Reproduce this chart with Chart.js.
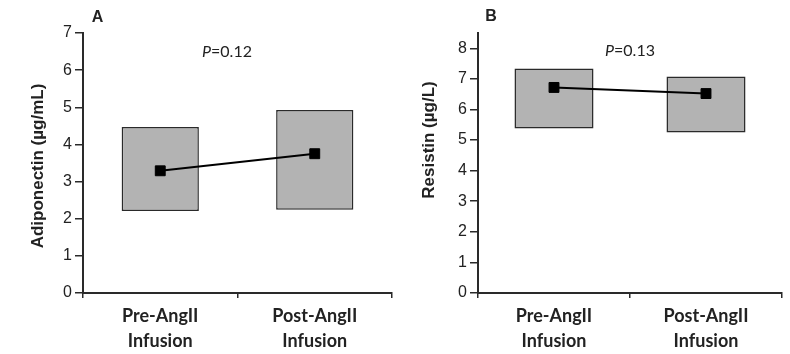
<!DOCTYPE html>
<html>
<head>
<meta charset="utf-8">
<script src="https://cdn.jsdelivr.net/npm/chart.js@4.4.1/dist/chart.umd.min.js"></script>
<style>
  html, body { margin: 0; padding: 0; background: #fff; }
  #lienzo { position: relative; width: 790px; height: 354px; }
  .panel { position: absolute; top: 0; height: 354px; }
  #panelA { left: 0; width: 400px; }
  #panelB { left: 400px; width: 390px; }
</style>
</head>
<body>
<div id="lienzo">
  <div class="panel" id="panelA"><canvas id="chartA"></canvas></div>
  <div class="panel" id="panelB"><canvas id="chartB"></canvas></div>
</div>
<script>
// --- DATOS ---
const categorias = [['Pre-AngII', 'Infusion'], ['Post-AngII', 'Infusion']];

// Adiponectina (µg/mL)
const adipoMin = [2.21, 2.24];
const adipoMax = [4.47, 4.93];
const adipoMediana = [3.29, 3.75];
const adipoTicks = [0, 1, 2, 3, 4, 5, 6, 7];

// Resistina (µg/L)
const resisMin = [5.38, 5.25];
const resisMax = [7.34, 7.08];
const resisMediana = [6.72, 6.52];
const resisTicks = [0, 1, 2, 3, 4, 5, 6, 7, 8];

const colores = {
    caja: '#b3b3b3',
    borde: '#2a2a2a',
    texto: '#222222',
    linea: '#000000'
};

const fuenteArial = '"Liberation Sans", Arial, sans-serif';

// --- PLUGIN DE TEXTOS (letra del panel, valor P, título del eje Y) ---
const notasPlugin = {
    id: 'notas',
    afterDraw(chart, args, opts) {
        const ctx = chart.ctx;
        ctx.save();
        ctx.fillStyle = colores.texto;
        ctx.textBaseline = 'middle';

        // Letra del panel
        ctx.font = 'bold 16px ' + fuenteArial;
        ctx.textAlign = 'center';
        ctx.fillText(opts.letra.texto, opts.letra.x, opts.letra.y);

        // Valor P: "P" en cursiva + resto normal
        ctx.font = 'italic 16px Lato, sans-serif';
        const wP = ctx.measureText('P').width;
        ctx.font = '16px Lato, sans-serif';
        const resto = '=' + opts.p.valor;
        const wR = ctx.measureText(resto).width;
        const x0 = opts.p.x - (wP + wR) / 2;
        ctx.textAlign = 'left';
        ctx.font = 'italic 16px Lato, sans-serif';
        ctx.fillText('P', x0, opts.p.y);
        ctx.font = '16px Lato, sans-serif';
        ctx.fillText(resto, x0 + wP, opts.p.y);

        // Título del eje Y
        ctx.translate(opts.titulo.x, opts.titulo.y);
        ctx.rotate(-Math.PI / 2);
        ctx.textAlign = 'center';
        ctx.font = 'bold 17px ' + fuenteArial;
        ctx.fillText(opts.titulo.texto, 0, 0);
        ctx.restore();
    }
};

// --- CONSTRUCCIÓN DE CADA PANEL ---
function crearPanel(idCanvas, cfg) {
    const ctx = document.getElementById(idCanvas).getContext('2d');
    const rangos = cfg.minimos.map((v, i) => [v, cfg.maximos[i]]);

    return new Chart(ctx, {
        data: {
            labels: categorias,
            datasets: [
                {
                    type: 'line',
                    data: cfg.medianas,
                    borderColor: colores.linea,
                    borderWidth: 2,
                    pointStyle: 'rect',
                    pointRadius: 7,
                    pointBackgroundColor: colores.linea,
                    pointBorderColor: colores.linea,
                    pointBorderWidth: 1,
                    order: 0
                },
                {
                    type: 'bar',
                    data: rangos,
                    backgroundColor: colores.caja,
                    borderColor: colores.borde,
                    borderWidth: 1.5,
                    borderSkipped: false,
                    categoryPercentage: 1,
                    barPercentage: cfg.anchoBarra,
                    order: 1
                }
            ]
        },
        options: {
            responsive: true,
            maintainAspectRatio: false,
            animation: false,
            layout: { padding: { top: 33, right: 0, bottom: 0, left: 0 } },
            plugins: {
                legend: { display: false },
                tooltip: { enabled: false },
                notas: cfg.notas
            },
            scales: {
                x: {
                    offset: true,
                    grid: {
                        offset: true,
                        drawOnChartArea: false,
                        tickLength: 5,
                        color: colores.borde,
                        lineWidth: 1.5
                    },
                    border: { color: colores.borde, width: 2 },
                    ticks: {
                        color: colores.texto,
                        padding: 6,
                        maxRotation: 0,
                        font: { family: 'Lato, sans-serif', size: 18, weight: 'bold', lineHeight: 1.39 }
                    },
                    afterFit: (scale) => { scale.height = 61; }
                },
                y: {
                    min: 0,
                    max: cfg.maximoY,
                    grid: {
                        drawOnChartArea: false,
                        tickLength: 8,
                        color: colores.borde,
                        lineWidth: 1.5
                    },
                    border: { color: colores.borde, width: 2 },
                    afterBuildTicks: (scale) => {
                        scale.ticks = cfg.ticks.map(v => ({ value: v }));
                    },
                    ticks: {
                        color: colores.texto,
                        padding: 3,
                        font: { family: fuenteArial, size: 16 }
                    },
                    afterFit: (scale) => { scale.width = cfg.anchoEjeY; }
                }
            }
        },
        plugins: [notasPlugin]
    });
}

document.addEventListener('DOMContentLoaded', () => {
    crearPanel('chartA', {
        minimos: adipoMin,
        maximos: adipoMax,
        medianas: adipoMediana,
        ticks: adipoTicks,
        maximoY: 7,
        anchoEjeY: 83,
        anchoBarra: 0.5,
        notas: {
            letra: { texto: 'A', x: 97.5, y: 18 },
            p: { valor: '0.12', x: 227, y: 52 },
            titulo: { texto: 'Adiponectin (µg/mL)', x: 38, y: 166 }
        }
    });

    crearPanel('chartB', {
        minimos: resisMin,
        maximos: resisMax,
        medianas: resisMediana,
        ticks: resisTicks,
        maximoY: 8.5,
        anchoEjeY: 78,
        anchoBarra: 0.52,
        notas: {
            letra: { texto: 'B', x: 91, y: 17 },
            p: { valor: '0.13', x: 230, y: 51 },
            titulo: { texto: 'Resistin (µg/L)', x: 29.5, y: 140 }
        }
    });
});
</script>
</body>
</html>
